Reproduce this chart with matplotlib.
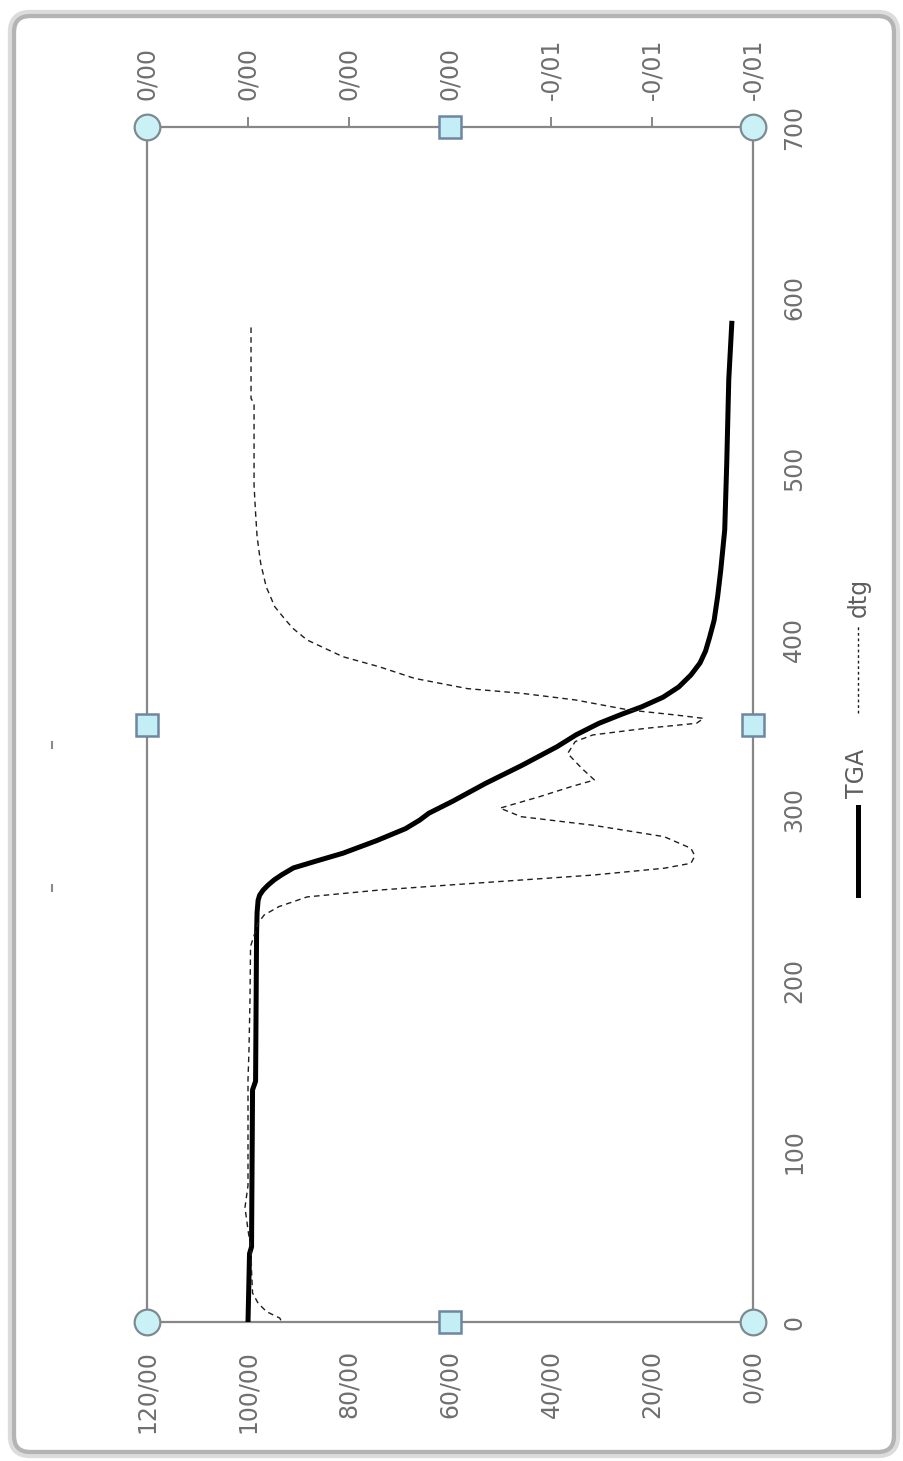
import matplotlib
matplotlib.use("Agg")
import matplotlib.pyplot as plt
from matplotlib.ticker import FuncFormatter, FixedLocator
from matplotlib.patches import FancyBboxPatch
from matplotlib.lines import Line2D
import matplotlib.transforms as mtransforms

# ---------------- data ----------------
tga_temp = [0, 40, 44, 136, 141, 228, 240, 247, 250, 253, 256, 259, 262, 266, 270, 274.6,
            282, 289, 294, 298, 305, 315.6, 326, 337, 344, 350.7, 356, 360.4, 366, 372,
            379, 386, 393, 401, 411, 425, 440, 464, 503, 552, 585]
tga_mass = [100.0, 99.7, 99.3, 99.1, 98.5, 98.3, 98.2, 98.0, 97.7, 97.0, 96.0, 94.8, 93.3,
            91.0, 86.5, 81.2, 74.5, 68.8, 66.0, 64.2, 59.5, 52.9, 45.8, 38.8, 35.0, 30.5,
            26.0, 22.0, 17.8, 14.7, 12.3, 10.5, 9.4, 8.6, 7.7, 7.0, 6.4, 5.6, 5.2, 4.8, 4.2]

dtg_temp = [1, 2.3, 6, 11, 17, 30, 42, 54, 67, 80, 93, 120, 142, 160, 190, 220,
            233.7, 238.4, 243.3, 249, 253, 256, 258.9, 261.8, 265.8, 268.7, 273, 277.5,
            284.3, 291, 296, 301, 307.7, 313.6, 317.5, 324.3, 333, 340, 343.9, 347.8,
            350.7, 353.6, 355.6, 358.5, 364.4, 368.3, 371, 377, 383.9, 389.7, 399.5,
            406.3, 411, 419, 430.7, 444.6, 460, 474, 490, 538, 541, 585]
dtg_rate = [-0.00065, -0.00063, -0.00037, -0.0002, -0.00009, -0.00007, -0.00006, 0.0,
            0.00006, 0.0, 0.0, 0.0, 0.0, -0.00002, -0.00004, -0.00005,
            -0.0002, -0.00032, -0.00061, -0.00117, -0.00259, -0.004, -0.00541, -0.00683,
            -0.00824, -0.00877, -0.00885, -0.00877,
            -0.00824, -0.00683, -0.00541, -0.00499, -0.00577, -0.0064, -0.00686, -0.00661,
            -0.00633, -0.00648, -0.00683, -0.00789,
            -0.00888, -0.00902, -0.00846, -0.00754, -0.00648, -0.00541, -0.00435, -0.0033,
            -0.00259, -0.00188, -0.00117,
            -0.00089, -0.00075, -0.00053, -0.00036, -0.00025, -0.00018, -0.00015, -0.00012,
            -0.00012, -0.00006, -0.00006]

temp_ticks = [0, 100, 200, 300, 400, 500, 600, 700]
mass_ticks = [0, 20, 40, 60, 80, 100, 120]
rate_ticks = [0.002, 0.0, -0.002, -0.004, -0.006, -0.008, -0.010]
series_names = ["TGA", "dtg"]

# ---------------- styles ----------------
W, H = 904, 1461
LABEL_C = "#6f6f6f"
AX_C = "#878787"
FS = 17

fig = plt.figure(figsize=(W / 100, H / 100), dpi=100)
fig.patch.set_facecolor("white")

# outer chart-area border (rounded)
ident = mtransforms.IdentityTransform()
outer = FancyBboxPatch((12, 7), 884, 1440, boxstyle="round,pad=0,rounding_size=18",
                       transform=ident, facecolor="none", edgecolor="#dcdcdc", lw=6)
inner = FancyBboxPatch((14, 9), 880, 1436, boxstyle="round,pad=0,rounding_size=16",
                       transform=ident, facecolor="none", edgecolor="#b4b4b4", lw=3)
fig.add_artist(outer)
fig.add_artist(inner)

# plot area
left_px, right_px, top_px, bot_px = 147, 753, 127, 1322
ax = fig.add_axes([left_px / W, 1 - bot_px / H, (right_px - left_px) / W, (bot_px - top_px) / H])
ax.set_facecolor("white")

ax.plot(tga_mass, tga_temp, color="black", lw=3.6, solid_joinstyle="round", zorder=3)
ax.set_xlim(120, 0)
ax.set_ylim(0, 700)

def fmt_mass(v, pos):
    return f"{v:.2f}".replace(".", "/")

ax.xaxis.set_major_locator(FixedLocator(mass_ticks))
ax.xaxis.set_major_formatter(FuncFormatter(fmt_mass))
ax.tick_params(axis="x", bottom=True, length=0, pad=20, labelsize=FS, labelcolor=LABEL_C,
               labelrotation=90)

ax.yaxis.tick_right()
ax.yaxis.set_major_locator(FixedLocator(temp_ticks))
ax.tick_params(axis="y", right=True, left=False, length=0, pad=21, labelsize=FS,
               labelcolor=LABEL_C, labelrotation=90)
for lab in ax.get_yticklabels():
    lab.set_va("center")

for sp in ax.spines.values():
    sp.set_color(AX_C)
    sp.set_linewidth(1.6)

# secondary (dtg) axis on top
ax2 = ax.twiny()
ax2.plot(dtg_rate, dtg_temp, color="#1e1e1e", lw=1.0, dashes=(4.0, 3.0),
         solid_joinstyle="round", zorder=2)
ax2.set_xlim(0.002, -0.010)

def fmt_rate(v, pos):
    r = round(v, 2)
    if abs(r) < 1e-12:
        r = 0.0
    return f"{r:.2f}".replace(".", "/")

ax2.xaxis.set_major_locator(FixedLocator(rate_ticks))
ax2.xaxis.set_major_formatter(FuncFormatter(fmt_rate))
ax2.tick_params(axis="x", top=True, direction="out", length=7.5, width=1.4, color=AX_C,
                pad=12, labelsize=FS, labelcolor=LABEL_C, labelrotation=90)
for sp in ax2.spines.values():
    sp.set_visible(False)

# selection handles on the plot area
hx_c = [0, 1, 0, 1]
hy_c = [0, 0, 1, 1]
ax2.plot(hx_c, hy_c, ls="none", marker="o", ms=18.5, mfc="#c9f1f6", mec="#7d8b90", mew=1.6,
         transform=ax2.transAxes, clip_on=False, zorder=10)
hx_s = [0.5, 0.5, 0, 1]
hy_s = [0, 1, 0.5, 0.5]
ax2.plot(hx_s, hy_s, ls="none", marker="s", ms=15.5, mfc="#c4eef6", mec="#6f86a0", mew=1.8,
         transform=ax2.transAxes, clip_on=False, zorder=10)

# legend (rotated, drawn manually)
lx = 858 / W
fig.add_artist(Line2D([lx, lx], [1 - 895 / H, 1 - 807 / H], color="black", lw=3.6,
                      transform=fig.transFigure))
fig.text(lx - 1 / W, 1 - 798 / H, series_names[0], rotation=90, ha="center", va="bottom",
         fontsize=FS, color="#5e5e5e")
fig.add_artist(Line2D([lx, lx], [1 - 713 / H, 1 - 625 / H], color="#1e1e1e", lw=1.0,
                      dashes=(2.0, 2.0), transform=fig.transFigure))
fig.text(lx + 1 / W, 1 - 617 / H, series_names[1], rotation=90, ha="center", va="bottom",
         fontsize=FS, color="#5e5e5e")

# small remnant marks at left
for yy in (745, 888):
    fig.add_artist(Line2D([52 / W, 52 / W], [1 - (yy + 3) / H, 1 - (yy - 3) / H],
                          color="#8a8a8a", lw=1.5, transform=fig.transFigure))

fig.savefig("out.png", dpi=100, facecolor="white")
